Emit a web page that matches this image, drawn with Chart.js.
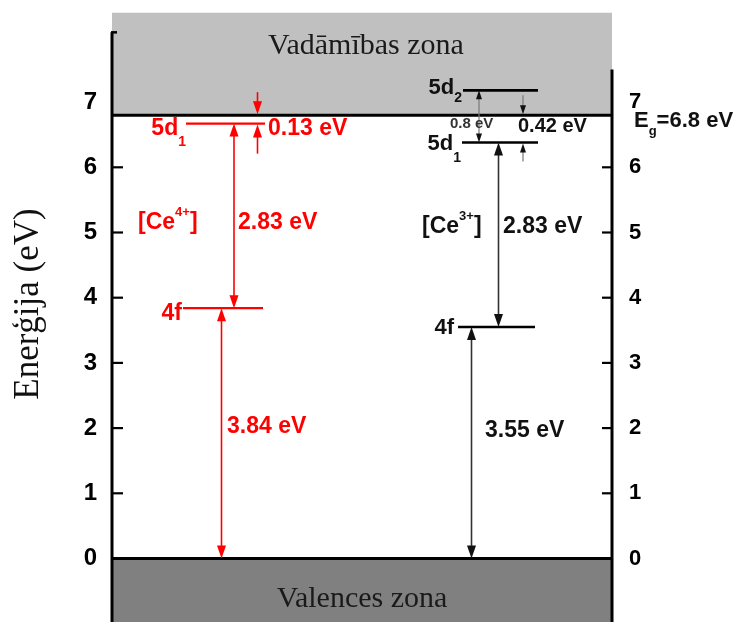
<!DOCTYPE html>
<html>
<head>
<meta charset="utf-8">
<script src="https://cdn.jsdelivr.net/npm/chart.js@4/dist/chart.umd.min.js"></script>
<style>
  html, body { margin: 0; padding: 0; background: #ffffff; }
  #wrap { width: 744px; height: 622px; }
</style>
</head>
<body>
<div id="wrap"><canvas id="c" width="744" height="622"></canvas></div>
<script>
// Energy levels of Ce4+ and Ce3+ inside the band gap (eV)
const bandGap = 6.8;            // bottom of the conduction band
const valenceTop = 0;           // top of the valence band
const conductionBandTop = 8.37; // upper extent of the shaded conduction band
const energyMin = -0.974;
const energyMax = 8.566;
const yTickLabels = [0, 1, 2, 3, 4, 5, 6, 7];

// levels
const levelNames  = ['5d1', '4f', '5d2', '5d1', '4f'];
const levelIon    = ['Ce4+', 'Ce4+', 'Ce3+', 'Ce3+', 'Ce3+'];
const levelEnergy = [6.67, 3.84, 7.18, 6.38, 3.55];

// energy gaps marked with arrows
const gapText = ['0.13 eV', '2.83 eV', '3.84 eV', '0.8 eV', '0.42 eV', '2.83 eV', '3.55 eV'];
const gapIon  = ['Ce4+', 'Ce4+', 'Ce4+', 'Ce3+', 'Ce3+', 'Ce3+', 'Ce3+'];
const gapLow  = [6.67, 3.84, 0, 6.38, 6.38, 3.55, 0];
const gapHigh = [6.8, 6.67, 3.84, 7.18, 6.8, 6.38, 3.55];

// ---- layout and styling ----
const RED = '#ff0000';
const INK = '#111111';
const SANS = '"Liberation Sans", Arial, sans-serif';
const SERIF = '"Liberation Serif", "Times New Roman", serif';

const levelSpan = [[1.48, 3.06], [1.42, 3.02], [7.02, 8.52], [7.0, 8.52], [6.92, 8.46]];
// label: text runs, gap to the line start (px), baseline offset below line (px)
const levelLabel = [
  { runs: [{ t: '5d', s: 23 }, { t: '1', s: 14, dy: 11 }], gap: 0, dy: 11 },
  { runs: [{ t: '4f', s: 23 }], gap: 1, dy: 12 },
  { runs: [{ t: '5d', s: 22 }, { t: '2', s: 14, dy: 8 }], gap: 1, dy: 4 },
  { runs: [{ t: '5d', s: 22 }, { t: '1', s: 14, dy: 12 }], gap: 1, dy: 7 },
  { runs: [{ t: '4f', s: 22 }], gap: 4, dy: 7 }
];

const arrowX    = [2.91, 2.44, 2.19, 7.34, 8.22, 7.73, 7.19];
const arrowKind = ['outside', 'span', 'span', 'span', 'outside', 'span', 'span'];
const arrowReach = [{ up: 23, down: 30 }, null, null, null, { up: 20, down: 19 }, null, null];
const arrowThin = [false, false, false, true, true, false, false];
// gap label anchor: left edge (x units) and baseline (eV)
const gapLabelPos = [[3.12, 6.495], [2.52, 5.05], [2.30, 1.925], [6.76, 6.60], [8.12, 6.54], [7.82, 4.99], [7.46, 1.86]];
const gapLabelSize = [23, 23, 23, 15, 20, 23, 23];

const ionLabels = [
  { ion: 'Ce4+', x: 0.52, y: 5.053 },
  { ion: 'Ce3+', x: 6.2, y: 4.99 }
];

const colorOf = ion => ion === 'Ce4+' ? RED : INK;

// ---- datasets ----
const datasets = [];
datasets.push({
  data: [{ x: 0, y: bandGap }, { x: 10, y: bandGap }],
  borderColor: '#000', borderWidth: 3, pointRadius: 0,
  fill: { value: conductionBandTop }, backgroundColor: '#c0c0c0', order: 10
});
datasets.push({
  data: [{ x: 0, y: valenceTop }, { x: 10, y: valenceTop }],
  borderColor: '#000', borderWidth: 3, pointRadius: 0,
  fill: 'start', backgroundColor: '#808080', order: 10
});
levelEnergy.forEach((e, i) => {
  datasets.push({
    data: [{ x: levelSpan[i][0], y: e }, { x: levelSpan[i][1], y: e }],
    borderColor: levelIon[i] === 'Ce4+' ? RED : '#000',
    borderWidth: levelIon[i] === 'Ce4+' ? 2.2 : 2.6,
    pointRadius: 0, fill: false, order: 1
  });
});

function drawRuns(ctx, x, y, runs, color, align) {
  let total = 0;
  runs.forEach(r => { ctx.font = 'bold ' + r.s + 'px ' + SANS; total += ctx.measureText(r.t).width; });
  let cx = align === 'right' ? x - total : x;
  ctx.fillStyle = color;
  ctx.textAlign = 'left';
  ctx.textBaseline = 'alphabetic';
  runs.forEach(r => {
    ctx.font = 'bold ' + r.s + 'px ' + SANS;
    ctx.fillText(r.t, cx, y + (r.dy || 0));
    cx += ctx.measureText(r.t).width;
  });
}

function head(ctx, x, tipY, dir, len, half) {
  // dir = +1 points down, -1 points up
  ctx.beginPath();
  ctx.moveTo(x, tipY);
  ctx.lineTo(x - half, tipY - dir * len);
  ctx.lineTo(x + half, tipY - dir * len);
  ctx.closePath();
  ctx.fill();
}

const diagram = {
  id: 'diagram',
  afterDatasetsDraw(chart) {
    const ctx = chart.ctx;
    const xs = chart.scales.x, ys = chart.scales.y, ys2 = chart.scales.y2;
    const area = chart.chartArea;
    const Y = v => ys.getPixelForValue(v);
    const X = v => xs.getPixelForValue(v);
    ctx.save();

    // axes and inward ticks
    ctx.strokeStyle = '#000';
    ctx.lineWidth = 3;
    ctx.beginPath();
    ctx.moveTo(area.left, Y(8.07)); ctx.lineTo(area.left, area.bottom + 2);
    ctx.moveTo(area.right, Y(7.5)); ctx.lineTo(area.right, area.bottom + 2);
    ctx.stroke();
    ctx.lineWidth = 2.5;
    ctx.beginPath();
    ctx.moveTo(area.left - 1, Y(8.07)); ctx.lineTo(area.left + 5, Y(8.07));
    ctx.stroke();
    ctx.lineWidth = 2.2;
    ys.ticks.forEach(t => {
      if (t.value < 0 || t.value > 6.5) return;
      const major = Number.isInteger(t.value);
      const p = ys.getPixelForValue(t.value);
      ctx.beginPath();
      ctx.moveTo(area.left, p); ctx.lineTo(area.left + (major ? 11 : 6), p);
      ctx.stroke();
    });
    ys2.ticks.forEach(t => {
      if (t.value < 0 || t.value > 6.5) return;
      const major = Number.isInteger(t.value);
      const p = ys2.getPixelForValue(t.value);
      ctx.beginPath();
      ctx.moveTo(area.right, p); ctx.lineTo(area.right - (major ? 10 : 6), p);
      ctx.stroke();
    });

    // gap arrows
    gapLow.forEach((lo, i) => {
      const color = gapIon[i] === 'Ce4+' ? RED : '#333';
      const x = X(arrowX[i]);
      const yLo = Y(lo), yHi = Y(gapHigh[i]);
      const thin = arrowThin[i];
      const len = thin ? 9 : 13, half = thin ? 3 : 4.5;
      ctx.strokeStyle = thin ? '#777' : color;
      ctx.fillStyle = gapIon[i] === 'Ce4+' ? RED : '#111';
      ctx.lineWidth = thin ? 1.2 : 1.6;
      if (arrowKind[i] === 'span') {
        ctx.beginPath(); ctx.moveTo(x, yHi + len - 1); ctx.lineTo(x, yLo - len + 1); ctx.stroke();
        head(ctx, x, yHi, -1, len, half);
        head(ctx, x, yLo, 1, len, half);
      } else {
        const r = arrowReach[i];
        ctx.beginPath(); ctx.moveTo(x, yHi - r.up); ctx.lineTo(x, yHi - len + 1); ctx.stroke();
        head(ctx, x, yHi - 1, 1, len, half);
        ctx.beginPath(); ctx.moveTo(x, yLo + r.down); ctx.lineTo(x, yLo + len - 1); ctx.stroke();
        head(ctx, x, yLo + 1, -1, len, half);
      }
    });

    // gap labels
    gapText.forEach((txt, i) => {
      const c = gapIon[i] === 'Ce4+' ? RED : (gapLabelSize[i] < 18 ? '#333' : INK);
      drawRuns(ctx, X(gapLabelPos[i][0]), Y(gapLabelPos[i][1]), [{ t: txt, s: gapLabelSize[i] }], c, 'left');
    });

    // level labels
    levelEnergy.forEach((e, i) => {
      const L = levelLabel[i];
      drawRuns(ctx, X(levelSpan[i][0]) - L.gap, Y(e) + L.dy, L.runs, colorOf(levelIon[i]), 'right');
    });

    // ion labels
    ionLabels.forEach(l => {
      const c = colorOf(l.ion);
      const charge = l.ion.slice(2);
      drawRuns(ctx, X(l.x), Y(l.y), [
        { t: '[Ce', s: 23 }, { t: charge, s: 13, dy: -13 }, { t: ']', s: 23 }
      ], c, 'left');
    });

    // band gap value next to the right axis
    drawRuns(ctx, area.right + 22, Y(bandGap) + 12, [
      { t: 'E', s: 22 }, { t: 'g', s: 13, dy: 8 }, { t: '=6.8 eV', s: 22 }
    ], INK, 'left');

    // band names
    ctx.fillStyle = '#1a1a1a';
    ctx.font = '30px ' + SERIF;
    ctx.textAlign = 'center';
    ctx.textBaseline = 'alphabetic';
    ctx.fillText('Vadāmības zona', X(5.08), Y(7.74));
    ctx.fillText('Valences zona', X(5.0), Y(-0.743));

    // axis title
    ctx.save();
    ctx.translate(38, 304);
    ctx.rotate(-Math.PI / 2);
    ctx.font = '35px ' + SERIF;
    ctx.fillStyle = '#111';
    ctx.textAlign = 'center';
    ctx.fillText('Enerģija (eV)', 0, 0);
    ctx.restore();

    ctx.restore();
  }
};

const tickCallback = v => yTickLabels.includes(v) ? String(v) : null;

new Chart(document.getElementById('c'), {
  type: 'line',
  data: { datasets },
  options: {
    responsive: false,
    animation: false,
    layout: { padding: 0 },
    plugins: { legend: { display: false }, tooltip: { enabled: false } },
    scales: {
      x: { type: 'linear', min: 0, max: 10, display: false },
      y: {
        type: 'linear', position: 'left', min: energyMin, max: energyMax,
        grid: { display: false }, border: { display: false },
        ticks: { stepSize: 0.5, autoSkip: false, padding: 7, color: '#000', font: { family: SANS, size: 24, weight: 'bold' }, callback: tickCallback },
        afterFit(s) { s.width = 112; s.paddingTop = 0; s.paddingBottom = 0; }
      },
      y2: {
        type: 'linear', position: 'right', min: energyMin, max: energyMax,
        grid: { display: false }, border: { display: false },
        ticks: { stepSize: 0.5, autoSkip: false, padding: 9, color: '#000', font: { family: SANS, size: 22, weight: 'bold' }, callback: tickCallback },
        afterFit(s) { s.width = 132; s.paddingTop = 0; s.paddingBottom = 0; }
      }
    }
  },
  plugins: [diagram]
});
</script>
</body>
</html>
